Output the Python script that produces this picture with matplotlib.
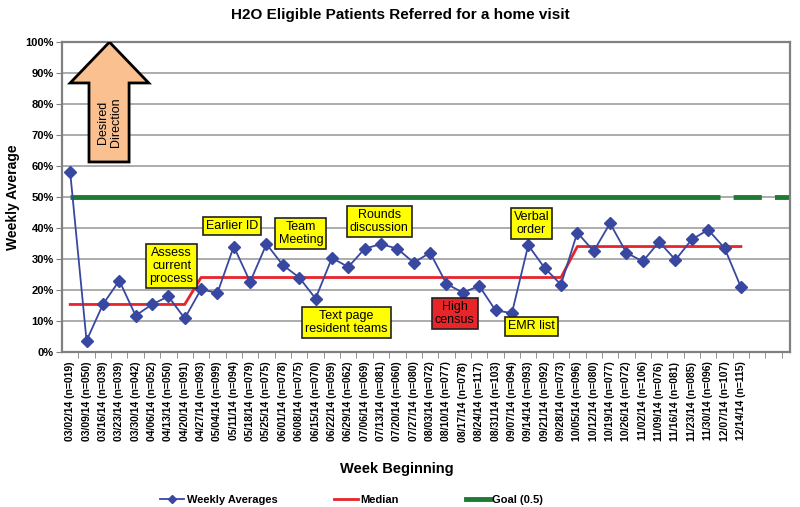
import matplotlib.pyplot as plt
import matplotlib.patches as mpatches
from matplotlib.lines import Line2D
import numpy as np

plt.rcParams['font.family'] = ['Liberation Sans', 'DejaVu Sans']

weeks = ["03/02/14", "03/09/14", "03/16/14", "03/23/14", "03/30/14", "04/06/14", "04/13/14",
         "04/20/14", "04/27/14", "05/04/14", "05/11/14", "05/18/14", "05/25/14", "06/01/14",
         "06/08/14", "06/15/14", "06/22/14", "06/29/14", "07/06/14", "07/13/14", "07/20/14",
         "07/27/14", "08/03/14", "08/10/14", "08/17/14", "08/24/14", "08/31/14", "09/07/14",
         "09/14/14", "09/21/14", "09/28/14", "10/05/14", "10/12/14", "10/19/14", "10/26/14",
         "11/02/14", "11/09/14", "11/16/14", "11/23/14", "11/30/14", "12/07/14", "12/14/14"]
n_counts = ["019", "050", "039", "039", "042", "052", "050", "091", "093", "099", "094", "079",
            "075", "078", "075", "070", "059", "062", "069", "081", "060", "080", "072", "077",
            "078", "117", "103", "094", "093", "092", "073", "096", "080", "077", "072", "106",
            "076", "081", "085", "096", "107", "115"]
weekly_avg = [0.58, 0.036, 0.153, 0.230, 0.117, 0.153, 0.179, 0.108, 0.202, 0.190, 0.340,
              0.226, 0.348, 0.280, 0.240, 0.172, 0.303, 0.274, 0.333, 0.348, 0.333, 0.288,
              0.320, 0.220, 0.191, 0.213, 0.134, 0.125, 0.344, 0.271, 0.217, 0.385, 0.325,
              0.415, 0.320, 0.292, 0.355, 0.297, 0.363, 0.394, 0.335, 0.209]
median = [0.153] * 8 + [0.240] * 23 + [0.340] * 11
goal = 0.5
n_slots = 44

labels = [f"{w} (n={n})" for w, n in zip(weeks, n_counts)]
x = np.arange(len(weekly_avg))

fig = plt.figure(figsize=(8, 5.07), dpi=100)
ax = fig.add_axes([0.0775, 0.306, 0.91, 0.611])

for v in np.arange(0.1, 1.0, 0.1):
    ax.axhline(v, color='#a6a6a6', lw=1.3, zorder=0)

# goal line: solid over the data, dashed beyond
ax.plot([0, 39.7], [goal, goal], color='#1e7b34', lw=3.5, solid_capstyle='butt', zorder=2)
ax.plot([39.7, n_slots], [goal, goal], color='#1e7b34', lw=3.5,
        linestyle=(5.8, (5.8, 2.7)), dash_capstyle='butt', zorder=2)

ax.plot(x, median, color='#e8232a', lw=2, zorder=3)
ax.plot(x, weekly_avg, color='#3848a0', lw=1.3, marker='D', markersize=6, zorder=4)

ax.set_xlim(-0.5, n_slots)
ax.set_ylim(0, 1)
ax.set_yticks(np.arange(0, 1.01, 0.1))
ax.set_yticklabels([f"{int(round(v * 100))}%" for v in np.arange(0, 1.01, 0.1)],
                   fontsize=8, fontweight='bold')
ax.set_xticks(x)
ax.set_xticklabels(labels, rotation=90, fontsize=7.5, fontweight='bold')
ax.set_xticks(np.arange(0.5, n_slots, 1), minor=True)
ax.tick_params(axis='x', which='major', length=0, pad=7)
ax.tick_params(axis='x', which='minor', length=4, color='#808080')
ax.tick_params(axis='y', length=4, color='#808080', pad=2)
for s in ax.spines.values():
    s.set_color('#808080')
    s.set_linewidth(1.6)

ax.set_ylabel("Weekly Average", fontsize=10, fontweight='bold', labelpad=4)
ax.set_xlabel("Week Beginning", fontsize=10.5, fontweight='bold')
ax.xaxis.set_label_coords(0.46, -0.355)
fig.suptitle("H2O Eligible Patients Referred for a home visit", fontsize=11,
             fontweight='bold', y=0.985)

# desired direction arrow
arrow = mpatches.Polygon([(1.15, 0.613), (3.6, 0.613), (3.6, 0.868), (4.8, 0.868),
                          (2.4, 1.0), (0.0, 0.868), (1.15, 0.868)], closed=True,
                         facecolor='#fac090', edgecolor='black', lw=2, zorder=5)
ax.add_patch(arrow)
ax.text(2.4, 0.74, "Desired\nDirection", rotation=90, ha='center', va='center',
        fontsize=9, zorder=6)

notes = [("Assess\ncurrent\nprocess", 6.2, 0.277, '#ffff00'),
         ("Earlier ID", 9.9, 0.406, '#ffff00'),
         ("Team\nMeeting", 14.1, 0.382, '#ffff00'),
         ("Rounds\ndiscussion", 18.9, 0.421, '#ffff00'),
         ("Text page\nresident teams", 16.9, 0.094, '#ffff00'),
         ("High\ncensus", 23.5, 0.123, '#e8262a'),
         ("EMR list", 28.2, 0.082, '#ffff00'),
         ("Verbal\norder", 28.2, 0.415, '#ffff00')]
for txt, nx, ny, fc in notes:
    ax.text(nx, ny, txt, ha='center', va='center', fontsize=9, linespacing=1.1, zorder=6,
            bbox=dict(boxstyle='square,pad=0.25', facecolor=fc, edgecolor='#222222', lw=1.2))

h1 = Line2D([], [], color='#3848a0', lw=1.3, marker='D', markersize=4)
h2 = Line2D([], [], color='#e8232a', lw=2)
h3 = Line2D([], [], color='#1e7b34', lw=3.5)
for h, lab, lx in [(h1, "Weekly Averages", 0.193), (h2, "Median", 0.410), (h3, "Goal (0.5)", 0.575)]:
    fig.legend(handles=[h], labels=[lab], loc='center left', bbox_to_anchor=(lx, 0.014),
               frameon=False, handlelength=2.2, handletextpad=0.2, borderpad=0,
               prop={'size': 8, 'weight': 'bold'})

fig.savefig("out.png", dpi=100)
